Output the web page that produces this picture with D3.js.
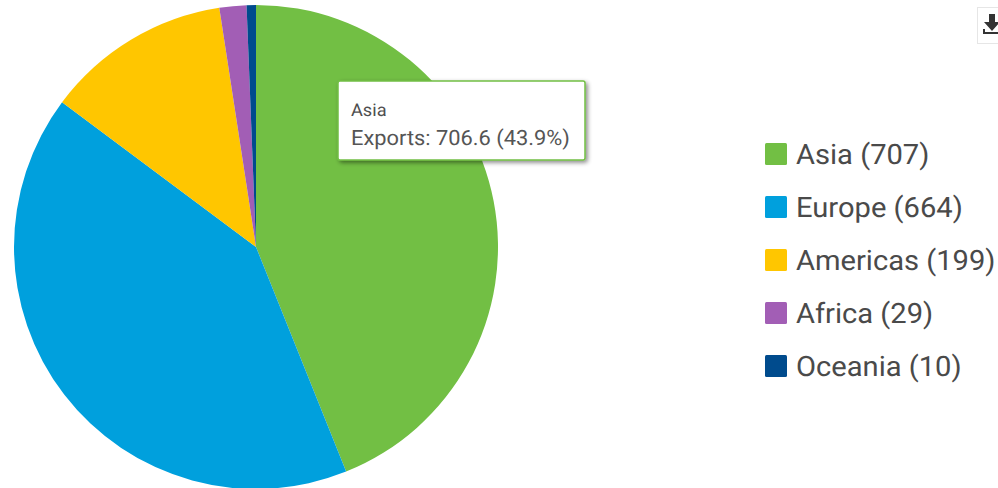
<!DOCTYPE html>
<html>
<head>
<meta charset="utf-8">
<script src="https://cdn.jsdelivr.net/npm/d3@7"></script>
<style>
  html, body { margin: 0; padding: 0; background: #fff; overflow: hidden; }
  svg { display: block; font-family: Roboto, sans-serif; text-rendering: geometricPrecision; }
</style>
</head>
<body>
<svg id="chart" width="998" height="488"></svg>
<script>
// Exports by region
const regions = ["Asia", "Europe", "Americas", "Africa", "Oceania"];
const exportsValues = [706.6, 664, 199, 29, 10];
const regionColors = ["#72bf44", "#00a0dd", "#ffc600", "#a25eb5", "#004b8d"];
const seriesName = "Exports";
const activeRegion = 0;
const activeShare = "43.9%";

const svg = d3.select("#chart");
const defs = svg.append("defs");
const shadow = defs.append("filter").attr("id", "tipShadow")
  .attr("x", "-10%").attr("y", "-20%").attr("width", "125%").attr("height", "145%");
shadow.append("feDropShadow")
  .attr("dx", 2).attr("dy", 2).attr("stdDeviation", 2)
  .attr("flood-color", "#000").attr("flood-opacity", 0.45);

// Pie
const cx = 256, cy = 247, radius = 242;
const color = d3.scaleOrdinal(regions, regionColors);
const pie = d3.pie().sort(null).value((d, i) => exportsValues[i]);
const arc = d3.arc().innerRadius(0).outerRadius(radius);

svg.append("g").attr("transform", `translate(${cx},${cy})`)
  .selectAll("path")
  .data(pie(regions))
  .join("path")
  .attr("d", arc)
  .attr("fill", d => color(d.data));

// Legend
const legendY = d3.scalePoint(regions, [154, 366]);
const legend = svg.append("g").selectAll("g")
  .data(regions)
  .join("g")
  .attr("transform", d => `translate(765,${legendY(d)})`);

legend.append("rect")
  .attr("y", -11).attr("width", 22).attr("height", 22).attr("rx", 1.5)
  .attr("fill", d => color(d));

// Legend labels run slightly wide
legend.append("text")
  .attr("transform", "translate(31,0) scale(1.04,1)")
  .attr("dy", "0.36em")
  .attr("font-size", 28).attr("fill", "#4a4a4a")
  .text((d, i) => `${d} (${d3.format(".0f")(exportsValues[i])})`);

// Hover tooltip on the first slice
const tip = svg.append("g").attr("transform", "translate(338,81)");
tip.append("rect")
  .attr("width", 247).attr("height", 79).attr("rx", 2)
  .attr("fill", "#fff")
  .attr("stroke", color(regions[activeRegion])).attr("stroke-width", 1.5)
  .attr("filter", "url(#tipShadow)");
tip.append("text")
  .attr("transform", "translate(13,35) scale(1.04,1)")
  .attr("font-size", 17.5).attr("fill", "#4f4f4f")
  .text(regions[activeRegion]);
tip.append("text")
  .attr("transform", "translate(13,64) scale(1.04,1)")
  .attr("font-size", 21).attr("fill", "#555")
  .text(`${seriesName}: ${exportsValues[activeRegion]} (${activeShare})`);

// Download button, clipped by the right edge
const btn = svg.append("g").attr("transform", "translate(977,7)");
btn.append("rect")
  .attr("x", 0.5).attr("y", 0.5).attr("width", 30).attr("height", 36)
  .attr("fill", "#fff").attr("stroke", "#e6e6e6");
btn.append("path")
  .attr("d", d3.line()([[12, 7], [18, 7], [18, 15], [23, 15], [15, 24], [7, 15], [12, 15]]) + "Z")
  .attr("fill", "#333");
btn.append("path")
  .attr("d", d3.line()([[7, 22], [7, 26], [24, 26]]))
  .attr("fill", "none").attr("stroke", "#333").attr("stroke-width", 2);
</script>
</body>
</html>
